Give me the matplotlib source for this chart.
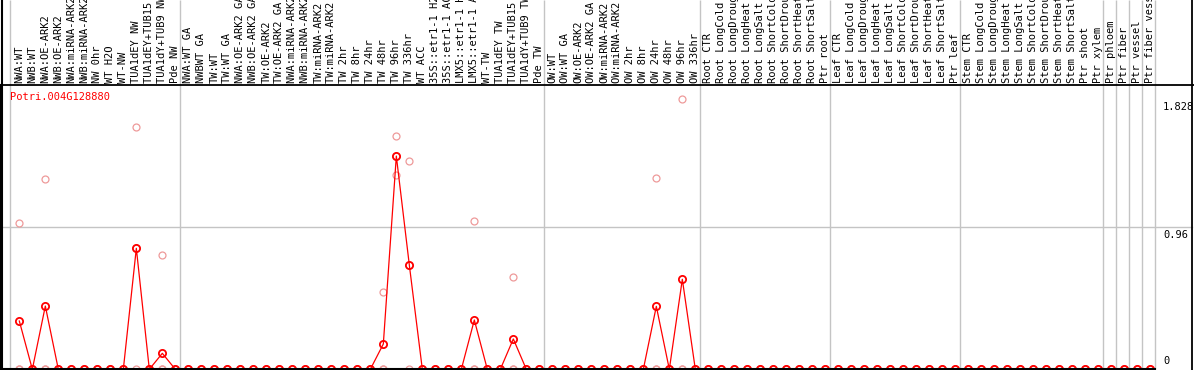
import matplotlib
matplotlib.use("Agg")
import matplotlib.pyplot as plt
import matplotlib.transforms as mtransforms

# categories (x axis, written vertically above the plot)
samples = [
    "NWA:WT", "NWB:WT", "NWA:OE-ARK2", "NWB:OE-ARK2", "NWA:miRNA-ARK2",
    "NWB:miRNA-ARK2", "NW 0hr", "WT H2O", "WT-NW", "TUA1dEY NW",
    "TUA1dEY+TUB15 NW", "TUA1dY+TUB9 NW", "Pde NW",
    "NWA:WT GA", "NWBWT GA", "TW:WT", "TW:WT GA", "NWA:OE-ARK2 GA",
    "NWB:OE-ARK2 GA", "TW:OE-ARK2", "TW:OE-ARK2 GA", "NWA:miRNA-ARK2 GA",
    "NWB:miRNA-ARK2 GA", "TW:miRNA-ARK2", "TW:miRNA-ARK2 GA", "TW 2hr",
    "TW 8hr", "TW 24hr", "TW 48hr", "TW 96hr", "TW 336hr", "WT ACC",
    "35S::etr1-1 H2O", "35S::etr1-1 ACC", "LMX5::etr1-1 H2O",
    "LMX5::etr1-1 ACC", "WT-TW", "TUA1dEY TW", "TUA1dEY+TUB15 TW",
    "TUA1dY+TUB9 TW", "Pde TW",
    "OW:WT", "OW:WT GA", "OW:OE-ARK2", "OW:OE-ARK2 GA", "OW:miRNA-ARK2",
    "OW:miRNA-ARK2 GA", "OW 2hr", "OW 8hr", "OW 24hr", "OW 48hr", "OW 96hr",
    "OW 336hr",
    "Root CTR", "Root LongCold", "Root LongDrought", "Root LongHeat",
    "Root LongSalt", "Root ShortCold", "Root ShortDrought", "Root ShortHeat",
    "Root ShortSalt", "Ptr root",
    "Leaf CTR", "Leaf LongCold", "Leaf LongDrought", "Leaf LongHeat",
    "Leaf LongSalt", "Leaf ShortCold", "Leaf ShortDrought", "Leaf ShortHeat",
    "Leaf ShortSalt", "Ptr leaf",
    "Stem CTR", "Stem LongCold", "Stem LongDrought", "Stem LongHeat",
    "Stem LongSalt", "Stem ShortCold", "Stem ShortDrought", "Stem ShortHeat",
    "Stem ShortSalt", "Ptr shoot", "Ptr xylem",
    "Ptr phloem", "Ptr fiber", "Ptr vessel", "Ptr fiber vessel",
]
group_sizes = [13, 28, 12, 10, 10, 11, 1, 1, 1, 1]

# mean expression (red line)
mean_expr = [
    0.326, 0, 0.427, 0, 0, 0, 0, 0, 0, 0.817, 0, 0.108, 0,
    0, 0, 0, 0, 0, 0, 0, 0, 0, 0, 0, 0, 0, 0, 0, 0.171, 1.440, 0.704,
    0, 0, 0, 0, 0.333, 0, 0, 0.205, 0, 0,
    0, 0, 0, 0, 0, 0, 0, 0, 0.425, 0, 0.608, 0,
    0, 0, 0, 0, 0, 0, 0, 0, 0, 0,
    0, 0, 0, 0, 0, 0, 0, 0, 0, 0,
    0, 0, 0, 0, 0, 0, 0, 0, 0, 0, 0,
    0, 0, 0, 0,
]
# replicates (pink circles)
rep1 = [
    0.986, 0, 1.285, 0, 0, 0, 0, 0, 0, 1.636, 0, 0.770, 0,
    0, 0, 0, 0, 0, 0, 0, 0, 0, 0, 0, 0, 0, 0, 0, 0.522, 1.573, 1.404,
    0, 0, 0, 0, 1.001, 0, 0, 0.621, 0, 0,
    0, 0, 0, 0, 0, 0, 0, 0, 1.290, 0, 1.828, 0,
    0, 0, 0, 0, 0, 0, 0, 0, 0, 0,
    0, 0, 0, 0, 0, 0, 0, 0, 0, 0,
    0, 0, 0, 0, 0, 0, 0, 0, 0, 0, 0,
    0, 0, 0, 0,
]
rep2 = [0] * 9 + [0.817] + [0] * 19 + [1.312, 0.704] + [0] * 57
rep3 = [0] * 29 + [1.440] + [0] * 58
gene = "Potri.004G128880"
y_labels = [0, 0.96, 1.828]

W, H = 1194, 370
fig = plt.figure(figsize=(W / 100, H / 100), dpi=100)
ax = fig.add_axes([1 / W, 0.7 / H, 1154 / W, 284.3 / H])

x = list(range(len(samples)))
pink = "#EE9A9A"
for rep in (rep1, rep2, rep3):
    ax.plot(x, rep, linestyle="none", marker="o", markersize=5,
            markerfacecolor="none", markeredgecolor=pink, markeredgewidth=0.9)
ax.plot(x, mean_expr, color="red", linewidth=0.9, marker="o", markersize=5.2,
        markerfacecolor="none", markeredgecolor="red", markeredgewidth=1.3)

ax.set_xlim(-1.41, 87.36)
ax.set_ylim(0, 1.92)
ax.set_xticks([])
ax.set_yticks([])
for s in ("top", "right"):
    ax.spines[s].set_visible(False)
ax.spines["left"].set_linewidth(1.5)
ax.spines["bottom"].set_linewidth(1.5)

grey = "#C4C4C4"
top_frac = (H - 0.7) / 284.3
# group separators, running up through the label area
bounds = [-0.7]
n = 0
for g in group_sizes:
    n += g
    bounds.append(n - 1 + 0.38)
ax.vlines(bounds, 0, top_frac, transform=ax.get_xaxis_transform(),
          colors=grey, linewidth=1, clip_on=False, zorder=0)
ax.axhline(0.96, xmin=0, xmax=1191 / 1154, color=grey, linewidth=1,
           clip_on=False, zorder=0)

# frame lines around the label area / tick label area
fig.add_artist(plt.Line2D([0, 1], [1 - 85 / H] * 2, color="black", linewidth=1.3))
fig.add_artist(plt.Line2D([1.5 / W] * 2, [0, 1], color="black", linewidth=1.5))
fig.add_artist(plt.Line2D([1192 / W] * 2, [0, 1], color="black", linewidth=1.3))

mono = "DejaVu Sans Mono"
fs = 7.5
lab_tr = mtransforms.blended_transform_factory(ax.transData, ax.transAxes)
for i, lab in enumerate(samples):
    ax.text(i, 1.006, lab, transform=lab_tr, rotation=90, ha="center",
            va="bottom", fontsize=fs, family=mono, clip_on=False)

for v in y_labels:
    if v == 0:
        off, va = 3, "bottom"
    else:
        off, va = -3, "top"
    ax.annotate(f"{v:g}", xy=(1, v), xycoords=("axes fraction", "data"),
                xytext=(8, off), textcoords="offset pixels", ha="left", va=va,
                fontsize=fs, family=mono, annotation_clip=False)

fig.text(10 / W, 1 - 97 / H, gene, color="red", fontsize=fs, family=mono,
         ha="left", va="center")

fig.savefig("out.png", dpi=100)
